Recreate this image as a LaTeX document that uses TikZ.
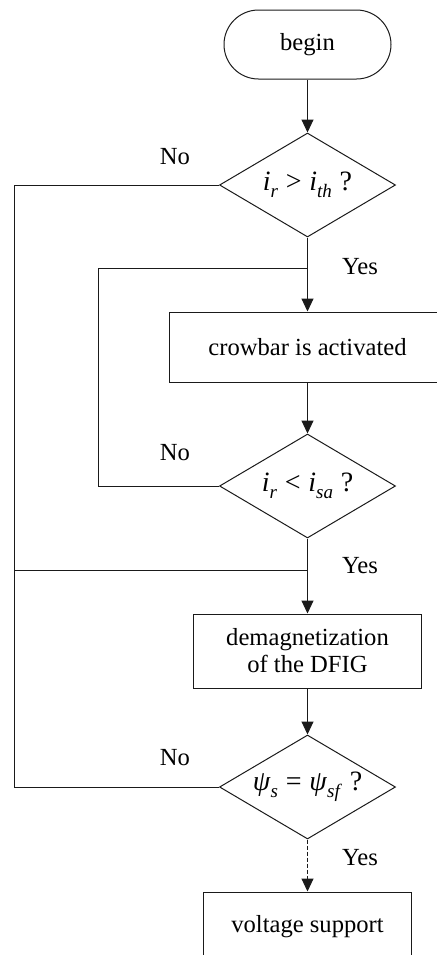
\documentclass[tikz,border=0pt]{standalone}
\usepackage{fontspec}
\setmainfont{Liberation Serif}
\usepackage{tikz}
\usetikzlibrary{arrows.meta,shapes.geometric,shapes.misc}
\definecolor{ink}{HTML}{1A1A1A}
\newcommand{\ivar}[2]{\textit{#1}\raisebox{-0.55ex}{\fontsize{9.5}{10}\selectfont\textit{#2}}}
\tikzset{
  termbox/.style={draw=ink,rounded rectangle,line width=0.5pt,
                  minimum width=87.5pt,minimum height=34.5pt,
                  inner sep=2pt,font=\fontsize{12.3}{13.5}\selectfont},
  flowbox/.style={draw=ink,rectangle,line width=0.5pt,
                  align=center,inner sep=2pt,
                  font=\fontsize{12.3}{13.5}\selectfont},
  decide/.style={draw=ink,diamond,line width=0.5pt,aspect=1.7,
                 minimum width=88pt,minimum height=52pt,inner sep=1pt,
                 font=\fontsize{14}{15}\selectfont},
  lbl/.style={font=\fontsize{12.3}{13.5}\selectfont,inner sep=0pt},
  flowarr/.style={-{Triangle[length=6.5pt,width=6pt]},line width=0.5pt,draw=ink},
  plainline/.style={line width=0.5pt,draw=ink},
  dasharr/.style={flowarr,dash pattern=on 2pt off 1pt}
}

\begin{document}
\begin{tikzpicture}[x=0.5pt,y=-0.5pt]
      \path[use as bounding box] (0,0) rectangle (437,955);
      \clip (0,0) rectangle (437,955);
      % main column of steps
      \node[termbox] (beg) at (307.5,44.5) {begin};
      \node[decide] (chkth) at (307.5,185) {\ivar{i}{r}\;>\;\ivar{i}{th}\;?};
      \node[flowbox,minimum width=138pt,minimum height=35pt] (crow) at (307.5,347)
        {crowbar is activated};
      \node[decide] (chksa) at (307.5,486) {\ivar{i}{r}\;<\;\ivar{i}{sa}\;?};
      \node[flowbox,minimum width=114pt,minimum height=37pt] (demag) at (307.5,651)
        {demagnetization\\of the DFIG};
      \node[decide] (chkpsi) at (307.5,787) {\ivar{ψ}{s}\;=\;\ivar{ψ}{sf}\;?};
      \node[flowbox,minimum width=104pt,minimum height=35pt] (volt) at (307.5,927)
        {voltage support};
      % joints where the loops come back
      \coordinate (jtop) at (307.5,268);
      \coordinate (jmid) at (307.5,570);
      % labels
      \node[lbl] (no1) at (175,157) {No};
      \node[lbl] (yes1) at (360,267) {Yes};
      \node[lbl] (no2) at (175,453) {No};
      \node[lbl] (yes2) at (360,566) {Yes};
      \node[lbl] (no3) at (175,758) {No};
      \node[lbl] (yes3) at (360,858) {Yes};
      % arrows down the column
      \draw[flowarr] (beg.south) -- (chkth.north);
      \draw[flowarr] (chkth.south) -- (crow.north);
      \draw[flowarr] (crow.south) -- (chksa.north);
      \draw[flowarr] (chksa.south) -- (demag.north);
      \draw[flowarr] (demag.south) -- (chkpsi.north);
      \draw[dasharr] (chkpsi.south) -- (volt.north);
      % the No loops
      \draw[plainline] (chkth.west) -- (14,185) -- (14,570) -- (jmid);
      \draw[plainline] (chksa.west) -- (98,486) -- (98,268) -- (jtop);
      \draw[plainline] (chkpsi.west) -- (14,787) -- (14,570);
    \end{tikzpicture}
\end{document}
